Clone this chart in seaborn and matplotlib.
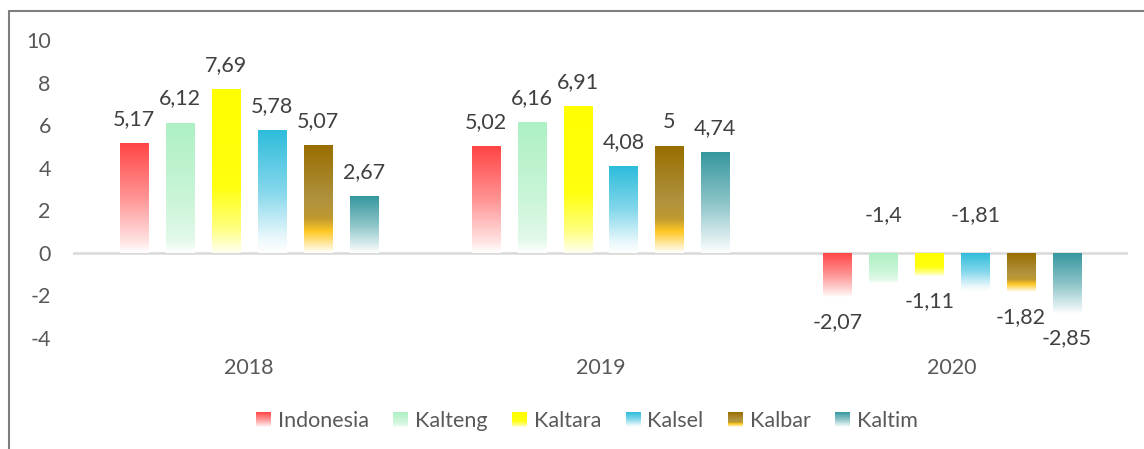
import numpy as np
import pandas as pd
import matplotlib
matplotlib.use("Agg")
import matplotlib.pyplot as plt
import seaborn as sns
from matplotlib.colors import LinearSegmentedColormap
from matplotlib.lines import Line2D
from matplotlib.patches import Rectangle, Patch
from matplotlib.legend_handler import HandlerBase

# ---- data ----
years = ["2018", "2019", "2020"]
regions = ["Indonesia", "Kalteng", "Kaltara", "Kalsel", "Kalbar", "Kaltim"]
indonesia = [5.17, 5.02, -2.07]
kalteng = [6.12, 6.16, -1.4]
kaltara = [7.69, 6.91, -1.11]
kalsel = [5.78, 4.08, -1.81]
kalbar = [5.07, 5.0, -1.82]
kaltim = [2.67, 4.74, -2.85]
y_ticks = [-4, -2, 0, 2, 4, 6, 8, 10]

series = [indonesia, kalteng, kaltara, kalsel, kalbar, kaltim]

# ---- styles (gradient stops: 0 = top of bar, 1 = bottom) ----
gradients = [
    [(0.0, "#FF4444"), (0.5, "#FF9494"), (0.9, "#FFE4E4"), (1.0, "#FFFFFF")],
    [(0.0, "#ADF0C4"), (0.6, "#CBF5D8"), (0.9, "#E2F9EA"), (1.0, "#FFFFFF")],
    [(0.0, "#FFFF00"), (0.6, "#FFFF10"), (0.85, "#FFFF80"), (1.0, "#FFFFF0")],
    [(0.0, "#2CBCDB"), (0.5, "#84D7EB"), (0.88, "#EAF8FC"), (1.0, "#FFFFFF")],
    [(0.0, "#996E00"), (0.5, "#B0913E"), (0.68, "#C09A30"), (0.8, "#FFC824"), (1.0, "#FFFFFF")],
    [(0.0, "#35979E"), (0.5, "#8CC4C8"), (0.9, "#E6F2F3"), (1.0, "#FFFFFF")],
]
cmaps = [LinearSegmentedColormap.from_list(f"g{i}", g) for i, g in enumerate(gradients)]
TEXT = "#595959"
FS = 15.5

sns.set_style("white")
plt.rcParams["font.family"] = ["Lato", "DejaVu Sans"]

df = pd.DataFrame(
    [(y, r, s[i]) for r, s in zip(regions, series) for i, y in enumerate(years)],
    columns=["year", "region", "value"],
)

fig = plt.figure(figsize=(11.44, 4.49), dpi=100)
ax = fig.add_axes([73 / 1144, 1 - 338 / 449, (1128 - 73) / 1144, (338 - 40) / 449])

sns.barplot(data=df, x="year", y="value", hue="region", order=years,
            hue_order=regions, width=0.784, gap=0.39, errorbar=None,
            legend=False, ax=ax)

ax.set_xlim(-0.5, 2.5)
ax.set_ylim(-4, 10)

# gradient fills clipped to each bar
grad = np.linspace(0, 1, 256).reshape(-1, 1)
for k, cont in enumerate(ax.containers):
    for bar in cont:
        x0 = bar.get_x()
        w = bar.get_width()
        y0 = bar.get_y()
        h = bar.get_height()
        lo, hi = min(y0, y0 + h), max(y0, y0 + h)
        bar.set_facecolor("none")
        bar.set_edgecolor("none")
        im = ax.imshow(grad, cmap=cmaps[k], extent=(x0, x0 + w, lo, hi),
                       aspect="auto", origin="upper", interpolation="bilinear",
                       zorder=2)
        im.set_clip_path(bar)

ax.set_xlim(-0.5, 2.5)
ax.set_ylim(-4, 10)

# data labels
above_zero = {(1, 2), (3, 2)}
for k, cont in enumerate(ax.containers):
    for i, bar in enumerate(cont):
        v = series[k][i]
        xc = bar.get_x() + bar.get_width() / 2
        txt = f"{v:g}".replace(".", ",")
        if v >= 0:
            ax.annotate(txt, (xc, v), xytext=(0, 17.3), textcoords="offset points",
                        ha="center", va="center", fontsize=FS, color="#404040")
        elif (k, i) in above_zero:
            ax.annotate(txt, (xc, 0), xytext=(0, 27), textcoords="offset points",
                        ha="center", va="center", fontsize=FS, color="#404040")
        else:
            ax.annotate(txt, (xc, v), xytext=(0, -18), textcoords="offset points",
                        ha="center", va="center", fontsize=FS, color="#404040")

ax.axhline(0, color="#D9D9D9", lw=1.8, zorder=1)
ax.set_yticks(y_ticks)
ax.set_yticklabels([str(t) for t in y_ticks])
ax.tick_params(axis="y", length=0, pad=16, labelsize=FS, labelcolor=TEXT)
ax.tick_params(axis="x", length=0, pad=14.5, labelsize=FS, labelcolor=TEXT)
ax.set_xlabel("")
ax.set_ylabel("")
for sp in ax.spines.values():
    sp.set_visible(False)
ax.patch.set_alpha(0)


class GradHandler(HandlerBase):
    def __init__(self, cmap):
        super().__init__()
        self.cmap = cmap

    def create_artists(self, legend, orig_handle, xdescent, ydescent, width,
                       height, fontsize, trans):
        n = 24
        arts = []
        for j in range(n):
            r = Rectangle((-xdescent, -ydescent + height * (1 - (j + 1) / n)),
                          width, height / n + 0.05,
                          facecolor=self.cmap(j / (n - 1)), edgecolor="none",
                          transform=trans)
            arts.append(r)
        return arts


handles = [Patch(label=r) for r in regions]
hmap = {h: GradHandler(c) for h, c in zip(handles, cmaps)}
fig.legend(handles=handles, labels=regions, handler_map=hmap, loc="center",
           bbox_to_anchor=(0.513, 1 - 421 / 449), ncol=6, frameon=False,
           fontsize=FS, labelcolor=TEXT, handlelength=0.7, handleheight=0.75,
           handletextpad=0.3, columnspacing=1.15)

# outer frame (top and left)
fig.add_artist(Line2D([9 / 1144, 1], [1 - 11 / 449] * 2, transform=fig.transFigure,
                      color="#7F7F7F", lw=1.5))
fig.add_artist(Line2D([9 / 1144] * 2, [0, 1 - 11 / 449], transform=fig.transFigure,
                      color="#7F7F7F", lw=1.5))

fig.savefig("out.png", dpi=100, facecolor="white")
